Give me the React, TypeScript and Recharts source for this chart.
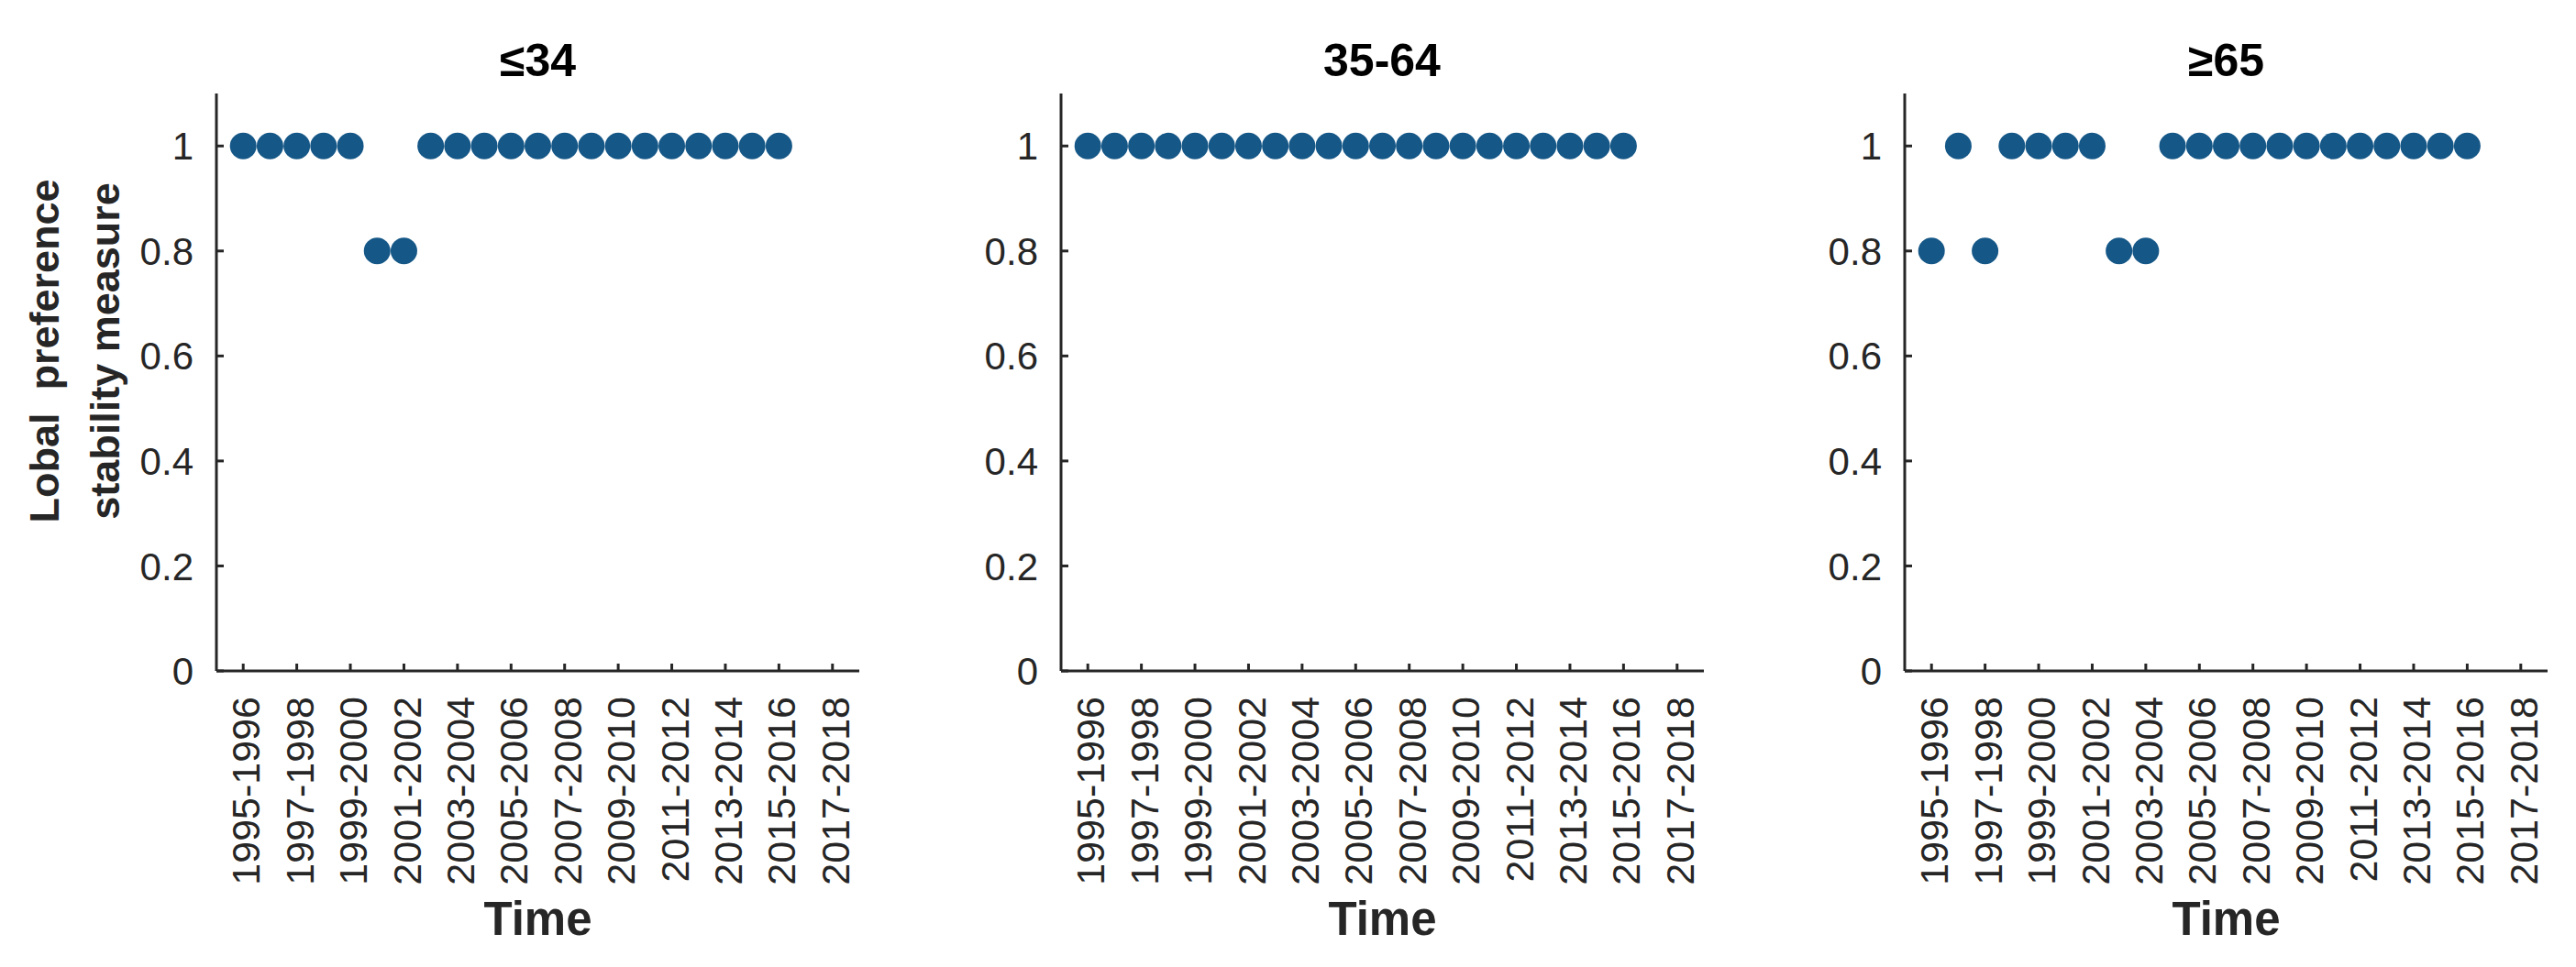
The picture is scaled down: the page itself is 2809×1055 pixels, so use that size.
import { ScatterChart, Scatter, XAxis, YAxis } from 'recharts';

// two-year windows, index 1..23 on the x axis
const PERIODS = [
  '1995-1996', '1996-1997', '1997-1998', '1998-1999', '1999-2000', '2000-2001',
  '2001-2002', '2002-2003', '2003-2004', '2004-2005', '2005-2006', '2006-2007',
  '2007-2008', '2008-2009', '2009-2010', '2010-2011', '2011-2012', '2012-2013',
  '2013-2014', '2014-2015', '2015-2016', '2016-2017', '2017-2018',
];
const X_TICKS = [1, 3, 5, 7, 9, 11, 13, 15, 17, 19, 21, 23];
const Y_TICKS = [0, 0.2, 0.4, 0.6, 0.8, 1];

const AGE_GROUPS = ['≤34', '35-64', '≥65'];
const STAB_UNDER_35 = [1, 1, 1, 1, 1, 0.8, 0.8, 1, 1, 1, 1, 1, 1, 1, 1, 1, 1, 1, 1, 1, 1];
const STAB_35_64 = [1, 1, 1, 1, 1, 1, 1, 1, 1, 1, 1, 1, 1, 1, 1, 1, 1, 1, 1, 1, 1];
const STAB_OVER_65 = [0.8, 1, 0.8, 1, 1, 1, 1, 0.8, 0.8, 1, 1, 1, 1, 1, 1, 1, 1, 1, 1, 1, 1];

const INK = '#262626';
const DOT = '#155787';
const FONT = '"Liberation Sans", Arial, Helvetica, sans-serif';

const PANEL_STEP = 920.5;
const CHART_W = 960;
const CHART_H = 1055;
const Y_AXIS_W = 236;
const PLOT_W = 701;
const TOP = 102;
const PLOT_H = 630;

function PeriodTick({ x, y, payload }: any) {
  return (
    <text
      x={x}
      y={y}
      transform={`rotate(-90, ${x}, ${y})`}
      textAnchor="end"
      dy="0.42em"
      fontSize={43}
      fontFamily={FONT}
      fill={INK}
    >
      {PERIODS[payload.value - 1]}
    </text>
  );
}

function StabilityTick({ x, y, payload }: any) {
  return (
    <text x={x} y={y} dy="0.36em" textAnchor="end" fontSize={42} fontFamily={FONT} fill={INK}>
      {payload.value}
    </text>
  );
}

function Dot(props: any) {
  return <circle cx={props.cx} cy={props.cy} r={14.5} fill={DOT} />;
}

function Panel({ idx, values }: { idx: number; values: number[] }) {
  const data = values.map((v, i) => ({ x: i + 1, y: v }));
  const left = idx * PANEL_STEP;
  return (
    <div style={{ position: 'absolute', left, top: 0, width: CHART_W, height: CHART_H }}>
      <div
        style={{
          position: 'absolute',
          left: Y_AXIS_W,
          top: 41,
          width: PLOT_W,
          textAlign: 'center',
          fontFamily: FONT,
          fontWeight: 'bold',
          fontSize: 50,
          lineHeight: '50px',
          color: '#000',
        }}
      >
        {AGE_GROUPS[idx]}
      </div>
      <ScatterChart
        width={CHART_W}
        height={CHART_H}
        margin={{ top: TOP, right: CHART_W - Y_AXIS_W - PLOT_W, bottom: 0, left: 0 }}
      >
        <XAxis
          type="number"
          dataKey="x"
          domain={[0, 24]}
          ticks={X_TICKS}
          interval={0}
          height={CHART_H - TOP - PLOT_H}
          tickSize={-8}
          tickMargin={36}
          axisLine={{ stroke: INK, strokeWidth: 3 }}
          tickLine={{ stroke: INK, strokeWidth: 3 }}
          tick={<PeriodTick />}
          label={{
            content: (p: any) => {
              const vb = p.viewBox;
              return (
                <text
                  x={vb.x + vb.width / 2}
                  y={vb.y + 288}
                  textAnchor="middle"
                  fontSize={51}
                  fontWeight="bold"
                  fontFamily={FONT}
                  fill={INK}
                >
                  Time
                </text>
              );
            },
          }}
        />
        <YAxis
          type="number"
          dataKey="y"
          domain={[0, 1.1]}
          ticks={Y_TICKS}
          interval={0}
          width={Y_AXIS_W}
          tickSize={-8}
          tickMargin={33}
          axisLine={{ stroke: INK, strokeWidth: 3 }}
          tickLine={{ stroke: INK, strokeWidth: 3 }}
          tick={<StabilityTick />}
          label={
            idx === 0
              ? {
                  content: (p: any) => {
                    const vb = p.viewBox;
                    const cy = vb.y + vb.height / 2 - 34;
                    return (
                      <g fontSize={45} fontWeight="bold" fontFamily={FONT} fill={INK}>
                        <text x={64} y={cy} transform={`rotate(-90, 64, ${cy})`} textAnchor="middle" style={{ whiteSpace: 'pre' }}>
                          {'Lobal  preference'}
                        </text>
                        <text x={130} y={cy} transform={`rotate(-90, 130, ${cy})`} textAnchor="middle">
                          stability measure
                        </text>
                      </g>
                    );
                  },
                }
              : undefined
          }
        />
        <Scatter data={data} shape={<Dot />} isAnimationActive={false} />
      </ScatterChart>
    </div>
  );
}

export default function App() {
  return (
    <div style={{ position: 'absolute', left: 0, top: 0, width: 2809, height: 1055, background: '#fff' }}>
      <Panel idx={0} values={STAB_UNDER_35} />
      <Panel idx={1} values={STAB_35_64} />
      <Panel idx={2} values={STAB_OVER_65} />
    </div>
  );
}
